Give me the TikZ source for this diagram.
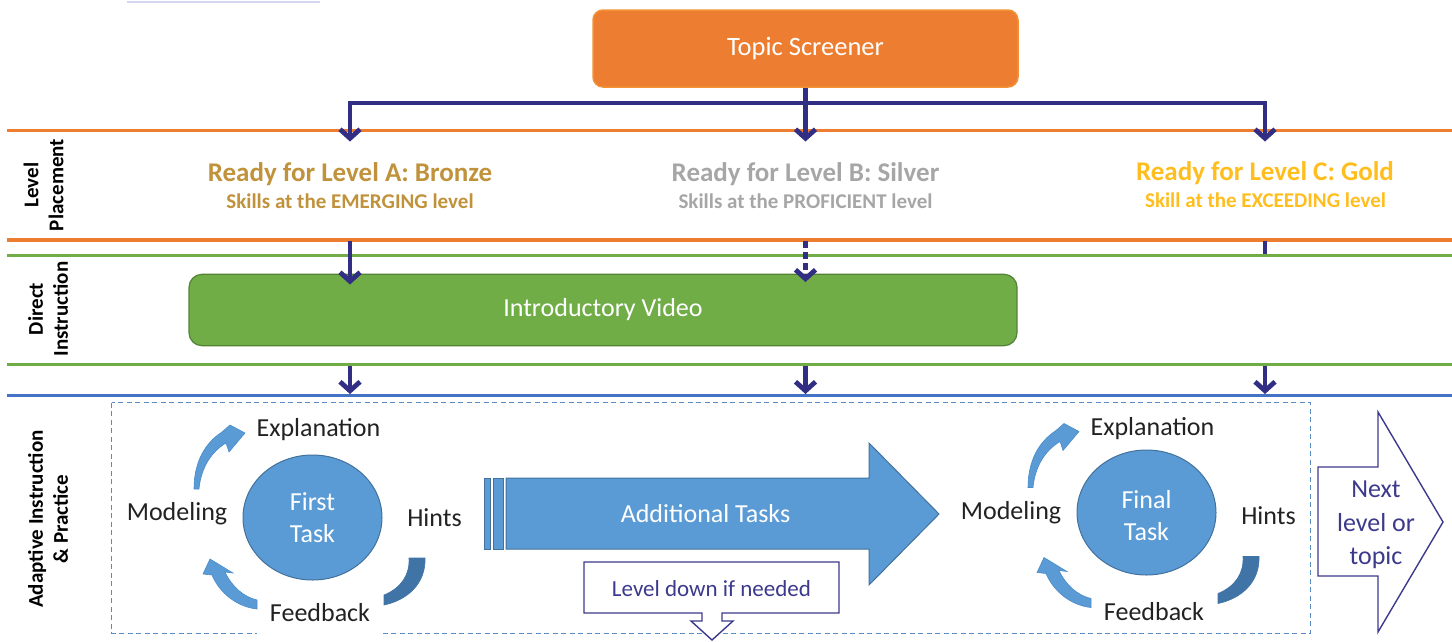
\documentclass[tikz,border=0pt]{standalone}
\usepackage{fontspec}
\setmainfont{Carlito}
\usetikzlibrary{arrows.meta,shapes.geometric}
\definecolor{navy}{HTML}{312E84}
\definecolor{orangeC}{HTML}{ED7D31}
\definecolor{screenerborder}{HTML}{F39234}
\definecolor{greenC}{HTML}{70AD47}
\definecolor{videoborder}{HTML}{548235}
\definecolor{blueC}{HTML}{4472C4}
\definecolor{bronze}{HTML}{C0923B}
\definecolor{silverC}{HTML}{A6A6A6}
\definecolor{goldC}{HTML}{FFBE1E}
\definecolor{taskblue}{HTML}{5B9BD5}
\definecolor{taskborder}{HTML}{41719C}
\definecolor{arrowedge}{HTML}{4A8BC9}
\definecolor{hintsdark}{HTML}{4174A6}
\definecolor{dashblue}{HTML}{5A8AC2}
\definecolor{calloutnavy}{HTML}{3C3A8C}
\definecolor{textdark}{HTML}{222222}
\definecolor{faint}{HTML}{D6D6F0}
\newcommand\drawcycle[5]{%
  \node[taskcirc] (#1circ) at (312.5,{517.5+#3}) {};
  \node[circtxt] (#1ctxt) at (312.5,{517.5+#3+#5}) {#2};
  \node[lbl] (#1expl) at (318.5,436.7) {Explanation};
  \node[lbl] (#1model) at (177,520.7) {Modeling};
  \node[lbl] (#1hints) at (434.5,526) {Hints};
  \node[lbl,#4] (#1feed) at (320,621.7) {Feedback};
  \filldraw[cyclearrow] (194,489) .. controls (194,462) and (205,443) .. (222,432) -- (230,425) -- (245,433) -- (229,452) -- (226,443) .. controls (211,452) and (201,468) .. (199,489) -- cycle;
  \filldraw[cyclearrow] (257,609) .. controls (238,607) and (220,594) .. (212,575) -- (203,574) -- (210,559) -- (233,573) -- (225,572) .. controls (232,587) and (244,597) .. (257,600) -- cycle;
  \filldraw[hintsband] (409,558) -- (425,558) .. controls (426,583) and (408,600) .. (384,605) -- (384,595) .. controls (401,588) and (410,575) .. (409,558) -- cycle;
}
\begin{document}
\begin{tikzpicture}[x=1pt,y=-1pt,
  orangeline/.style={draw=orangeC,line width=3.5pt},
  greenline/.style={draw=greenC,line width=3pt},
  blueline/.style={draw=blueC,line width=3pt},
  navyline/.style={draw=navy,line width=4.8pt},
  navyarrow/.style={navyline,-{Straight Barb[length=9pt,width=20pt]}},
  sidelbl/.style={rotate=90,align=center,inner sep=0pt,text=black,font=\bfseries\fontsize{21}{25}\selectfont},
  screener/.style={draw=screenerborder,line width=1.5pt,fill=orangeC,rounded corners=10pt,minimum width=425pt,minimum height=77pt,text=white,font=\fontsize{26.5}{31}\selectfont},
  video/.style={draw=videoborder,line width=1.2pt,fill=greenC,rounded corners=13pt,minimum width=828pt,minimum height=71.4pt,text=white,font=\fontsize{26}{31}\selectfont},
  readytxt/.style={anchor=base,inner sep=0pt,font=\bfseries\fontsize{27}{32}\selectfont},
  skilltxt/.style={anchor=base,inner sep=0pt,font=\bfseries\fontsize{21}{25}\selectfont},
  lbl/.style={anchor=base,inner sep=0pt,text=textdark,font=\fontsize{26}{31.7}\selectfont},
  taskcirc/.style={ellipse,draw=taskborder,line width=1pt,fill=taskblue,minimum width=139pt,minimum height=125pt,inner sep=0pt},
  circtxt/.style={inner sep=0pt,align=center,text=white,font=\fontsize{26}{31.7}\selectfont},
  cyclearrow/.style={fill=taskblue,draw=arrowedge,line width=0.6pt},
  hintsband/.style={fill=hintsdark,draw=hintsdark,line width=0.6pt},
  bigarrow/.style={fill=taskblue,draw=taskborder,line width=1pt},
  dashedbox/.style={draw=dashblue,line width=1.3pt,dash pattern=on 5pt off 3.5pt},
  callout/.style={fill=white,draw=calloutnavy,line width=1.4pt},
  callouttxt/.style={inner sep=0pt,text=calloutnavy,align=center}
]
\useasboundingbox (0,0) rectangle (1452,641);
\draw[draw=faint,line width=1.2pt] (127,2) -- (320,2);

% band lines
\draw[orangeline] (7,130.5) -- (1452,130.5);
\draw[orangeline] (7,240) -- (1452,240);
\draw[greenline] (7,255.5) -- (1452,255.5);
\draw[greenline] (7,364.7) -- (1452,364.7);
\draw[blueline] (7,395.5) -- (1452,395.5);

% side labels
\node[sidelbl] (lp) at (43.5,185) {Level\\Placement};
\node[sidelbl] (di) at (48,309) {Direct\\Instruction};
\node[sidelbl] (ai) at (48,519) {Adaptive Instruction\\\& Practice};

% topic screener and tree
\node[screener] (ts) at (805.5,48.5) {Topic Screener};
\coordinate (split) at (805.5,103);
\coordinate (tA1) at (350,141.5);
\coordinate (tB1) at (805.5,141.5);
\coordinate (tC1) at (1265,141.5);
\draw[navyline] (ts.south) -- (split);
\draw[navyarrow] (split) -| (tA1);
\draw[navyarrow] (split) -- (tB1);
\draw[navyarrow] (split) -| (tC1);

% level placement texts
\node[readytxt,text=bronze] (rA) at (350,181.7) {Ready for Level A: Bronze};
\node[skilltxt,text=bronze] (sA) at (350,208.3) {Skills at the EMERGING level};
\node[readytxt,text=silverC] (rB) at (805.5,181.7) {Ready for Level B: Silver};
\node[skilltxt,text=silverC] (sB) at (805.5,208.3) {Skills at the PROFICIENT level};
\node[readytxt,text=goldC] (rC) at (1265,180.7) {Ready for Level C: Gold};
\node[skilltxt,text=goldC] (sC) at (1265.5,207.3) {Skill at the EXCEEDING level};

\node[video] (iv) at (603,310) {Introductory Video};

% arrows into direct instruction
\coordinate (a2A) at (350,241);
\coordinate (b2A) at (350,284.5);
\coordinate (a2B) at (805.5,241);
\coordinate (b2B) at (805.5,282);
\coordinate (a2C) at (1265,241);
\coordinate (b2C) at (1265,254);
\draw[navyarrow] (a2A) -- (b2A);
\draw[navyarrow,dash pattern=on 7pt off 4pt] (a2B) -- (b2B);
\draw[navyline] (a2C) -- (b2C);

% arrows into adaptive
\coordinate (a3A) at (350,366);
\coordinate (b3A) at (350,394);
\coordinate (a3B) at (805.5,366);
\coordinate (b3B) at (805.5,394);
\coordinate (a3C) at (1265,366);
\coordinate (b3C) at (1265,394);
\draw[navyarrow] (a3A) -- (b3A);
\draw[navyarrow] (a3B) -- (b3B);
\draw[navyarrow] (a3C) -- (b3C);

% dashed adaptive box
\draw[dashedbox] (111.7,402.7) rectangle (1310.7,633.3);

% cycles
\drawcycle{L}{First\\Task}{0}{fill=white,minimum width=126pt,text depth=14pt}{0}
\begin{scope}[shift={(834,-1.5)}]
\drawcycle{R}{Final\\Task}{-3.5}{}{3}
\end{scope}

% additional tasks arrow
\filldraw[bigarrow] (484,478) rectangle (490,549);
\filldraw[bigarrow] (493,478) rectangle (503,549);
\filldraw[bigarrow] (506,478) -- (869,478) -- (869,443) -- (939,514) -- (869,585) -- (869,549) -- (506,549) -- cycle;
\node[lbl,text=white] (addt) at (705.5,522.7) {Additional Tasks};

% level down callout
\filldraw[callout] (584,562) -- (839,562) -- (839,613) -- (722,613) -- (722,621) -- (733,621) -- (712,640) -- (691,621) -- (702,621) -- (702,613) -- (584,613) -- cycle;
\node[callouttxt,anchor=base,font=\fontsize{23}{28}\selectfont] (ld) at (711.5,596) {Level down if needed};

% next level arrow
\filldraw[callout] (1318,467) -- (1378,467) -- (1378,412) -- (1443,522) -- (1378,632) -- (1378,576) -- (1318,576) -- cycle;
\node[callouttxt,font=\fontsize{26}{33.3}\selectfont] (nx) at (1376,525) {Next\\level or\\topic};
\end{tikzpicture}
\end{document}
